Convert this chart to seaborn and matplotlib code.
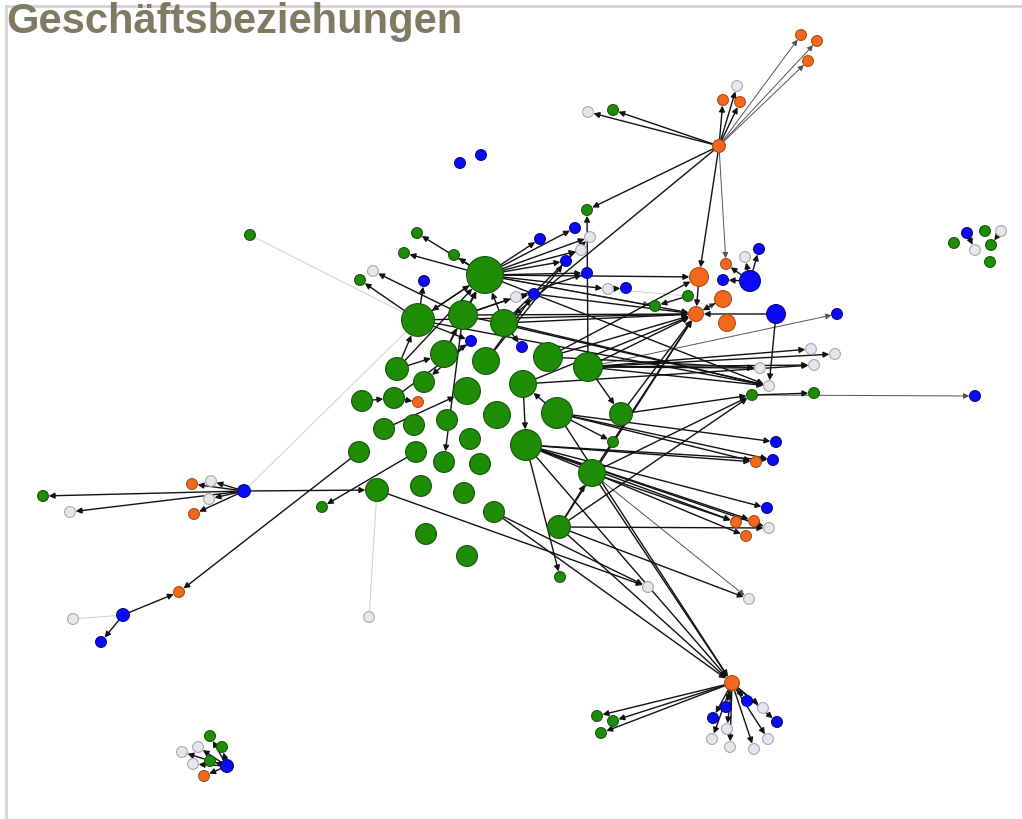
import pandas as pd
import seaborn as sns
import matplotlib.pyplot as plt

# Nodes: (id, x, y, radius) in picture coordinates, one list per category
green_nodes = [
    ("G0", 485, 275, 18), ("G1", 418, 320, 16), ("G2", 463, 315, 14), ("G3", 504, 323, 13),
    ("G4", 444, 354, 13), ("G5", 486, 361, 13), ("G6", 548, 357, 14), ("G7", 588, 367, 14),
    ("G8", 397, 369, 11), ("G9", 424, 382, 10), ("G10", 467, 391, 13), ("G11", 523, 384, 13),
    ("G12", 362, 401, 10), ("G13", 394, 398, 10), ("G14", 497, 415, 13), ("G15", 557, 413, 15),
    ("G16", 621, 414, 11), ("G17", 384, 429, 10), ("G18", 414, 425, 10), ("G19", 447, 420, 10),
    ("G20", 470, 439, 10), ("G21", 526, 445, 15), ("G22", 359, 452, 10), ("G23", 416, 452, 10),
    ("G24", 444, 462, 10), ("G25", 480, 464, 10), ("G26", 592, 473, 13), ("G27", 377, 490, 11),
    ("G28", 421, 486, 10), ("G29", 464, 493, 10), ("G30", 494, 512, 10), ("G31", 559, 527, 11),
    ("G32", 426, 534, 10), ("G33", 467, 556, 10),
    ("s1", 587, 210, 5), ("s2", 613, 110, 5), ("s3", 417, 233, 5), ("s4", 404, 253, 5),
    ("s5", 454, 255, 5), ("s6", 360, 280, 5), ("s7", 655, 306, 5), ("s8", 688, 296, 5),
    ("s9", 613, 442, 5), ("s10", 560, 577, 5), ("s11", 752, 395, 5), ("s12", 814, 393, 5),
    ("s13", 322, 507, 5), ("s14", 43, 496, 5), ("s15", 250, 235, 5), ("s16", 597, 716, 5),
    ("s17", 613, 721, 5), ("s18", 601, 733, 5), ("s19", 210, 736, 5), ("s20", 222, 747, 5),
    ("s21", 210, 761, 5), ("s22", 985, 231, 5), ("s23", 954, 243, 5), ("s24", 991, 245, 5),
    ("s25", 990, 262, 5),
]
orange_nodes = [
    ("oA", 719, 146, 6), ("o1", 801, 35, 5), ("o2", 817, 41, 5), ("o3", 808, 61, 5),
    ("o4", 723, 100, 5), ("o5", 740, 102, 5), ("O1", 699, 277, 9), ("o6", 726, 264, 5),
    ("O2", 723, 299, 8), ("O3", 696, 314, 7), ("O4", 727, 323, 8), ("o7", 418, 402, 5),
    ("o8", 756, 462, 5), ("o9", 736, 522, 5), ("o10", 754, 521, 5), ("o11", 746, 536, 5),
    ("o12", 192, 484, 5), ("o13", 194, 514, 5), ("o14", 179, 592, 5), ("oB", 732, 683, 7),
    ("o15", 204, 776, 5),
]
blue_nodes = [
    ("b1", 575, 228, 5), ("b2", 540, 239, 5), ("b3", 566, 261, 5), ("b4", 587, 273, 5),
    ("b5", 626, 288, 5), ("b6", 534, 294, 5), ("b7", 424, 281, 5), ("b8", 471, 341, 5),
    ("b9", 522, 347, 5), ("b10", 723, 280, 5), ("b11", 759, 249, 5), ("b12", 837, 314, 5),
    ("b13", 975, 396, 5), ("b14", 776, 442, 5), ("b15", 773, 460, 5), ("b16", 767, 508, 5),
    ("b17", 460, 163, 5), ("b18", 481, 155, 5), ("b19", 244, 491, 6), ("b20", 123, 615, 6),
    ("b21", 101, 642, 5), ("b22", 747, 701, 5), ("b23", 777, 722, 5), ("b24", 726, 707, 5),
    ("b25", 713, 718, 5), ("b26", 967, 233, 5), ("b27", 227, 766, 6),
    ("B1", 750, 281, 10), ("B2", 776, 314, 9),
]
grey_nodes = [
    ("w1", 588, 112, 5), ("w2", 737, 86, 5), ("w3", 590, 237, 5), ("w4", 581, 250, 5),
    ("w5", 608, 289, 5), ("w6", 516, 297, 5), ("w7", 373, 271, 5), ("w8", 745, 257, 5),
    ("w9", 811, 349, 5), ("w10", 835, 354, 5), ("w11", 814, 365, 5), ("w12", 760, 368, 5),
    ("w13", 769, 386, 5), ("w14", 769, 528, 5), ("w15", 648, 587, 5), ("w16", 749, 599, 5),
    ("w17", 70, 512, 5), ("w18", 211, 481, 5), ("w19", 209, 499, 5), ("w20", 73, 619, 5),
    ("w21", 369, 617, 5), ("w22", 763, 708, 5), ("w23", 727, 729, 5), ("w24", 712, 739, 5),
    ("w25", 730, 747, 5), ("w26", 754, 749, 5), ("w27", 768, 739, 5), ("w28", 198, 747, 5),
    ("w29", 182, 752, 5), ("w30", 193, 764, 5), ("w31", 1001, 231, 5), ("w32", 975, 250, 5),
]

# Directed relations (source -> target)
arrow_edges = [
    ("oA", "w2"), ("oA", "o4"), ("oA", "o5"), ("oA", "s2"), ("oA", "w1"), ("oA", "s1"),
    ("oA", "O1"), ("oA", "G3"),
    ("G7", "s1"),
    ("G0", "s3"), ("G0", "s4"), ("G0", "s5"), ("G2", "w7"), ("G1", "s6"), ("G1", "b7"),
    ("G0", "b2"), ("G0", "b1"), ("G0", "w3"), ("G0", "w4"), ("G0", "b3"), ("G0", "b4"),
    ("G0", "O1"), ("G0", "O3"), ("G0", "w13"), ("G0", "w5"), ("w5", "b5"), ("G0", "G1"),
    ("G1", "G0"), ("G2", "G0"), ("G3", "G0"), ("G8", "G1"), ("G8", "G0"), ("G4", "G0"),
    ("G3", "b9"), ("G1", "b8"), ("G2", "w6"), ("w6", "b6"), ("G4", "G2"), ("G5", "b6"),
    ("G1", "O3"), ("G2", "O3"), ("b6", "O3"), ("G3", "O3"), ("G6", "O3"), ("G7", "O3"),
    ("G11", "O3"), ("G26", "O3"), ("G31", "O3"), ("G16", "O3"), ("G1", "w13"), ("G2", "w13"),
    ("G3", "w13"), ("G6", "O1"), ("G2", "b4"), ("G3", "w3"), ("G5", "b3"),
    ("G7", "w9"), ("G7", "w10"), ("G7", "w11"), ("G7", "w12"), ("G6", "w12"), ("G7", "w13"),
    ("G11", "w11"), ("G7", "G16"), ("G16", "s11"), ("G31", "s11"), ("s11", "s12"),
    ("B2", "w13"), ("B1", "o6"), ("B1", "w8"), ("B1", "b11"), ("B1", "b10"), ("O1", "O3"),
    ("B2", "O3"), ("O2", "O3"), ("s8", "s7"),
    ("G15", "b14"), ("G15", "o8"), ("G15", "b15"), ("G15", "s9"), ("G15", "G11"),
    ("G21", "o8"), ("G21", "b15"), ("G21", "b16"), ("G21", "o9"), ("G21", "o10"),
    ("G21", "w14"), ("G21", "o11"), ("G21", "s10"), ("G21", "oB"), ("G26", "oB"),
    ("G31", "w14"), ("G31", "w16"), ("G31", "oB"), ("G30", "oB"), ("G30", "w15"),
    ("G27", "w15"), ("G15", "oB"), ("G26", "o9"), ("G26", "s11"), ("G31", "G26"),
    ("b19", "s14"), ("b19", "w17"), ("b19", "o12"), ("b19", "w18"), ("b19", "w19"),
    ("b19", "o13"), ("b19", "G27"), ("b20", "o14"), ("b20", "b21"), ("G22", "o14"),
    ("G23", "s13"), ("G12", "G13"), ("G13", "o7"), ("G17", "G10"), ("G2", "G24"),
    ("b8", "G9"), ("G13", "b8"), ("G8", "G4"), ("G11", "G21"),
    ("oB", "s16"), ("oB", "s17"), ("oB", "s18"), ("oB", "b22"), ("oB", "w22"),
    ("oB", "b23"), ("oB", "b24"), ("oB", "b25"), ("oB", "w23"), ("oB", "w24"),
    ("oB", "w25"), ("oB", "w26"), ("oB", "w27"),
    ("b27", "s19"), ("b27", "s20"), ("b27", "w28"), ("b27", "w29"), ("b27", "s21"),
    ("b27", "w30"), ("b27", "o15"), ("b26", "w32"), ("w31", "s24"),
]
thin_edges = [
    ("oA", "o1"), ("oA", "o2"), ("oA", "o3"), ("oA", "o6"), ("s11", "b13"),
    ("G7", "b12"), ("G0", "s7"), ("O3", "O2"), ("G26", "w16"),
]
faint_edges = [
    ("s15", "G1"), ("b19", "G1"), ("G27", "w21"), ("b20", "w20"), ("w5", "s8"),
]

kind_style = {
    "green": ("#1f8c05", "#14570a"),
    "orange": ("#f2691e", "#b04a10"),
    "blue": ("#0a0af5", "#05058a"),
    "grey": ("#e6e6ee", "#a8a8b0"),
}

frames = []
for kind, rows in [("green", green_nodes), ("orange", orange_nodes),
                   ("blue", blue_nodes), ("grey", grey_nodes)]:
    df = pd.DataFrame(rows, columns=["id", "x", "y", "r"])
    df["kind"] = kind
    frames.append(df)
nodes = pd.concat(frames, ignore_index=True)
pos = nodes.set_index("id")

fig = plt.figure(figsize=(10.22, 8.19), dpi=100)
ax = fig.add_axes([0, 0, 1, 1])
ax.set_xlim(0, 1022)
ax.set_ylim(819, 0)
ax.axis("off")

# frame lines and title
ax.plot([6, 1022], [6, 6], color="#d4d4d4", lw=2, zorder=0)
ax.plot([6, 6], [6, 819], color="#d4d4d4", lw=2, zorder=0)
ax.text(6, 33, "Geschäftsbeziehungen", fontsize=30, fontweight="bold",
        family=["Liberation Sans", "DejaVu Sans"], color="#7f7a62",
        va="baseline", ha="left", zorder=5)

PT = 0.72  # points per pixel at 100 dpi


def draw_edges(edges, color, lw, style, zorder):
    for s, t in edges:
        a, b = pos.loc[s], pos.loc[t]
        ax.annotate("", xy=(b.x, b.y), xytext=(a.x, a.y),
                    arrowprops=dict(arrowstyle=style, color=color, lw=lw,
                                    shrinkA=a.r * PT, shrinkB=b.r * PT + 0.5,
                                    mutation_scale=8.5),
                    zorder=zorder)


draw_edges(faint_edges, "#cfcfcf", 0.7, "-", 1)
draw_edges(thin_edges, "#555555", 0.7, "-|>", 2)
draw_edges(arrow_edges, "#111111", 1.0, "-|>", 2)

for kind, (face, edge) in kind_style.items():
    sub = nodes[nodes["kind"] == kind]
    sns.scatterplot(data=sub, x="x", y="y", ax=ax, color=face,
                    s=(2 * sub["r"] * PT + 0.6) ** 2, edgecolor=edge, linewidth=0.8,
                    legend=False, zorder=4)

ax.set_xlim(0, 1022)
ax.set_ylim(819, 0)
ax.axis("off")
fig.savefig("out.png", dpi=100)
